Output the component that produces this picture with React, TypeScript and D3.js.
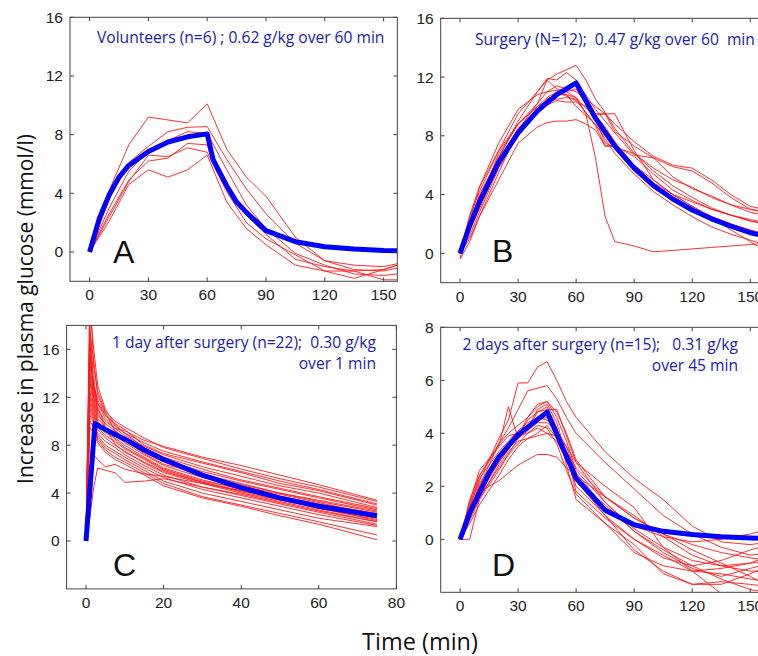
import React from "react";
import * as d3 from "d3";

// ---- A: volunteers ----
const timeA = [0, 10, 20, 30, 40, 50, 60, 70, 80, 90, 105, 120, 135, 150, 157];
const subjectsA = [
  [0, 4.2, 7.3, 9.2, 9.0, 8.8, 10.1, 7.0, 5.1, 3.8, 1.0, -0.6, -0.9, -1.0, -0.8],
  [0, 3.6, 6.1, 7.2, 8.2, 8.5, 8.55, 6.3, 4.3, 2.6, 0.6, -0.6, -1.2, -1.3, -1.1],
  [0, 3.0, 5.5, 6.9, 7.6, 8.2, 8.1, 5.6, 3.2, 1.6, -0.1, -0.9, -1.5, -1.6, -1.5],
  [0, 2.6, 4.9, 6.2, 6.4, 7.4, 7.3, 4.6, 2.5, 1.2, -0.5, -1.0, -1.3, -1.9, -1.9],
  [0, 2.4, 4.8, 6.6, 6.5, 7.1, 6.8, 4.1, 2.0, 0.9, -0.2, -1.3, -1.8, -1.2, -0.9],
  [0, 2.1, 4.6, 5.6, 5.1, 5.6, 6.6, 3.4, 1.6, 0.5, -0.9, -1.3, -1.3, -1.2, -0.9],
];
const modelTimeA = [0, 5, 10, 15, 20, 30, 40, 50, 60, 63, 70, 75, 80, 90, 105, 120, 135, 150, 157];
const modelA = [0, 2.3, 3.9, 5.1, 5.9, 6.85, 7.5, 7.85, 8.05, 6.3, 4.5, 3.4, 2.7, 1.45, 0.7, 0.36, 0.2, 0.1, 0.08];

// ---- B: surgery ----
const timeB = [0, 5, 10, 20, 30, 40, 45, 50, 55, 60, 65, 70, 75, 80, 90, 100, 110, 120, 130, 140, 150, 160];
const subjectsB = [
  [0, 2.5, 4.2, 7.0, 9.5, 11.0, 11.8, 12.2, 12.5, 12.8, 11.8, 10.5, 9.6, 8.5, 6.8, 5.8, 5.0, 4.5, 3.8, 3.3, 2.8, 2.5],
  [0, 2.0, 4.0, 6.5, 9.0, 11.0, 11.9, 11.8, 12.3, 11.8, 10.8, 9.8, 9.0, 8.2, 6.7, 6.5, 5.9, 5.6, 4.8, 3.8, 3.0, 2.8],
  [0, 1.8, 3.5, 6.8, 8.8, 10.2, 11.8, 11.2, 11.0, 11.2, 10.2, 9.5, 9.5, 9.5, 7.0, 5.0, 4.0, 3.5, 3.0, 2.6, 2.3, 2.0],
  [0, 1.5, 3.2, 6.0, 8.5, 9.8, 10.5, 10.8, 11.0, 10.6, 9.5, 6.5, 2.5, 0.8, 0.5, 0.1, 0.2, 0.3, 0.4, 0.5, 0.6, 0.7],
  [0, 1.0, 2.5, 5.0, 7.5, 8.6, 8.9, 9.0, 9.0, 9.1, 8.8, 8.4, 7.3, 7.3, 5.8, 4.6, 3.6, 3.0, 2.5, 2.0, 1.6, 1.2],
  [0, 2.2, 4.5, 7.5, 9.8, 10.8, 11.0, 11.4, 11.2, 11.0, 10.5, 10.0, 9.5, 8.8, 7.6, 6.6, 6.0, 5.8, 5.0, 4.0, 3.2, 2.9],
  [0, 1.6, 3.0, 6.0, 8.3, 9.8, 10.5, 10.8, 10.8, 10.6, 9.9, 9.4, 9.5, 8.3, 7.3, 6.5, 5.2, 4.4, 3.9, 3.3, 3.0, 2.7],
  [0, 2.0, 3.8, 6.6, 8.8, 10.0, 10.6, 11.0, 10.7, 10.4, 9.6, 8.7, 8.0, 7.2, 6.0, 5.0, 4.0, 3.2, 2.5, 1.9, 1.4, 1.0],
  [0, 1.2, 2.8, 5.8, 8.0, 9.5, 10.1, 10.4, 10.3, 10.3, 10.0, 9.4, 8.6, 7.6, 6.0, 4.8, 4.0, 3.2, 2.4, 1.6, 0.8, 0.0],
  [-0.3, 1.8, 3.4, 6.3, 8.5, 9.6, 10.3, 10.5, 10.6, 10.5, 9.6, 8.7, 7.3, 7.3, 6.6, 5.4, 4.3, 3.6, 3.0, 2.6, 2.2, 1.9],
  [0, 2.6, 4.5, 7.0, 8.8, 10.0, 10.4, 10.9, 11.3, 11.4, 10.4, 9.2, 7.5, 7.2, 6.8, 5.6, 4.6, 3.8, 3.1, 2.6, 2.2, 2.0],
  [-0.4, 0.8, 2.5, 5.5, 8.4, 10.2, 11.0, 11.1, 10.8, 10.0, 9.4, 8.8, 7.8, 6.8, 5.4, 4.2, 3.3, 2.5, 1.8, 1.3, 0.9, 0.5],
];
const modelTimeB = [0, 5, 10, 20, 30, 40, 50, 60, 70, 80, 90, 100, 110, 120, 130, 140, 150, 160];
const modelB = [0, 1.9, 3.5, 6.2, 8.2, 9.7, 10.8, 11.6, 9.2, 7.3, 5.8, 4.6, 3.7, 2.95, 2.35, 1.85, 1.4, 1.1];

// ---- C: 1 day after surgery ----
const timeC = [0, 1, 2, 3, 5, 7.5, 10, 15, 20, 30, 40, 50, 60, 75];
const subjectsC = [
  [0, 21, 14.5, 12.5, 10.8, 10.0, 9.5, 8.6, 7.8, 6.9, 6.0, 5.2, 4.5, 3.3],
  [0, 18, 13.0, 11.5, 10.5, 9.6, 9.0, 8.2, 7.5, 6.6, 5.8, 5.0, 4.3, 3.1],
  [0, 17, 12.5, 11.0, 10.0, 9.4, 8.8, 7.9, 7.2, 6.2, 5.4, 4.6, 4.0, 2.8],
  [0, 16, 12.0, 10.5, 9.8, 9.2, 8.6, 7.6, 6.8, 5.8, 5.0, 4.3, 3.6, 2.6],
  [0, 15, 11.8, 10.2, 9.5, 9.0, 8.4, 7.3, 6.4, 5.6, 4.8, 4.0, 3.3, 2.4],
  [0, 14, 11.5, 10.0, 9.2, 8.8, 8.2, 7.2, 6.3, 5.3, 4.6, 3.9, 3.2, 2.2],
  [0, 13.5, 11.0, 9.8, 9.0, 8.6, 8.0, 7.0, 6.1, 5.1, 4.3, 3.6, 2.9, 2.0],
  [0, 12.5, 10.8, 9.5, 8.8, 8.3, 7.7, 6.8, 5.9, 4.9, 4.2, 3.5, 2.7, 1.8],
  [0, 12.0, 10.5, 9.3, 8.6, 8.0, 7.5, 6.5, 5.7, 4.8, 4.0, 3.3, 2.6, 1.6],
  [0, 11.5, 10.2, 9.0, 8.3, 7.8, 7.2, 6.3, 5.5, 4.5, 3.8, 3.1, 2.4, 1.4],
  [0, 11.0, 10.0, 8.8, 8.0, 7.5, 7.0, 6.1, 5.3, 4.3, 3.6, 2.9, 2.2, 1.3],
  [0, 10.5, 9.8, 8.6, 7.8, 7.3, 6.8, 5.9, 5.0, 4.0, 3.3, 2.6, 1.9, 1.2],
  [0, 10.0, 9.5, 8.4, 7.6, 7.0, 6.6, 5.7, 4.8, 3.7, 3.0, 2.3, 1.6, 0.5],
  [0, 9.5, 9.0, 8.2, 7.4, 6.8, 6.4, 5.5, 4.6, 3.6, 2.9, 2.1, 1.4, 0.1],
  [0, 13.0, 12.5, 11.5, 10.2, 9.4, 9.2, 8.4, 7.9, 7.0, 6.3, 5.5, 4.7, 3.4],
  [0, 15.5, 13.0, 11.8, 10.5, 9.8, 9.3, 8.0, 7.3, 6.5, 5.7, 4.8, 4.2, 3.0],
  [0, 4.0, 7.2, 6.8, 6.2, 6.4, 6.0, 5.6, 5.4, 4.8, 4.2, 3.5, 2.8, 1.9],
  [0, 2.0, 4.5, 6.1, 5.9, 5.7, 4.9, 5.0, 5.2, 4.5, 3.9, 3.2, 2.5, 1.6],
  [0, 19.5, 16.0, 13.0, 11.0, 9.7, 9.0, 7.8, 7.0, 6.0, 5.1, 4.4, 3.7, 2.7],
  [0, 17.5, 15.0, 12.2, 10.7, 9.2, 8.5, 7.4, 6.6, 5.5, 4.7, 4.0, 3.4, 2.5],
  [0, 14.5, 13.5, 11.2, 9.6, 8.5, 7.8, 6.9, 6.0, 5.0, 4.4, 3.7, 3.1, 2.3],
  [0, 16.5, 12.8, 10.8, 9.4, 8.1, 7.4, 6.6, 5.8, 4.9, 4.1, 3.4, 2.8, 1.7],
];
const modelTimeC = [0, 2.3, 5, 10, 15, 20, 30, 40, 50, 60, 75];
const modelC = [0, 9.8, 9.3, 8.5, 7.6, 6.8, 5.5, 4.45, 3.6, 2.9, 2.1];

// ---- D: 2 days after surgery ----
const timeD = [0, 5, 10, 20, 25, 30, 35, 40, 45, 50, 55, 60, 75, 90, 105, 120, 135, 150, 160];
const subjectsD = [
  [0, 1.2, 2.2, 3.8, 4.5, 5.9, 5.9, 6.5, 6.7, 6.0, 5.2, 4.6, 3.3, 2.3, 1.5, 0.5, -0.1, -0.2, -0.1],
  [0, 1.0, 2.0, 3.6, 4.2, 4.9, 5.6, 5.7, 5.8, 5.3, 4.6, 4.0, 2.9, 1.9, 0.9, 0.2, -0.3, -0.6, -0.5],
  [0, 1.3, 2.4, 3.5, 5.0, 3.8, 4.2, 4.5, 4.6, 4.2, 3.0, 2.2, 1.3, 0.3, -0.4, -1.0, -1.5, -1.9, -2.0],
  [0, 0.8, 1.8, 2.2, 2.5, 2.8, 3.0, 3.2, 3.2, 3.1, 2.7, 2.4, 1.6, 0.9, 0.1, -0.6, -1.0, -1.2, -1.2],
  [0, 0, 1.5, 2.6, 3.2, 3.8, 4.2, 4.9, 5.1, 4.4, 3.2, 1.8, 0.8, 0.0, -0.6, -1.2, -1.3, -1.5, -1.6],
  [0, 1.1, 2.0, 2.9, 3.4, 3.9, 4.6, 5.0, 5.2, 4.6, 3.7, 2.6, 1.4, 0.3, -0.5, -1.1, -1.4, -1.1, -0.9],
  [0, 1.0, 1.6, 2.7, 3.2, 3.6, 4.0, 4.2, 4.0, 3.7, 3.0, 2.2, 0.9, -0.4, -1.2, -1.7, -1.7, -1.3, -1.0],
  [0, 0.6, 1.3, 2.4, 3.0, 3.5, 3.8, 4.0, 4.3, 3.8, 3.3, 2.7, 1.6, 0.8, 0.2, -0.4, -0.9, -1.4, -1.8],
  [0, 0.9, 1.9, 3.1, 3.6, 3.9, 4.5, 4.8, 4.9, 4.9, 3.9, 2.9, 1.4, 0.4, -0.3, -0.8, -1.0, -0.9, -0.6],
  [0, 0.7, 1.5, 2.8, 3.3, 3.7, 3.8, 3.9, 4.0, 3.9, 3.5, 2.9, 2.0, 1.2, -0.3, -1.2, -2.05, -2.6, -2.9],
  [0, 1.4, 2.6, 3.5, 3.9, 4.0, 4.1, 4.4, 4.4, 4.1, 3.5, 2.5, 1.2, 0.5, 0.1, -0.1, 0.0, 0.2, 0.4],
  [0, 1.2, 2.3, 3.3, 3.7, 4.1, 4.4, 4.6, 4.5, 4.1, 3.1, 2.0, 0.9, 0.0, -0.7, -1.0, -0.8, -0.4, -0.2],
  [0, 0.8, 1.7, 2.9, 3.4, 3.9, 4.0, 4.3, 4.2, 3.6, 2.6, 1.7, 0.6, -0.5, -1.0, -1.2, -1.1, -0.9, -0.8],
  [0, 1.0, 2.1, 3.2, 3.5, 3.8, 4.1, 4.8, 5.0, 4.2, 2.8, 1.5, 0.6, -0.2, -1.3, -1.7, -1.6, -1.7, -1.8],
  [0, 1.5, 2.4, 3.6, 4.0, 4.3, 4.6, 5.1, 5.2, 4.8, 4.0, 3.0, 1.6, 0.8, 0.2, -0.2, -0.5, -0.7, -0.8],
];
const modelTimeD = [0, 5, 10, 15, 20, 30, 45, 60, 75, 90, 105, 120, 135, 150, 160];
const modelD = [0, 1.0, 1.75, 2.5, 3.1, 3.95, 4.8, 2.3, 1.1, 0.55, 0.3, 0.18, 0.1, 0.05, 0.03];

const ticks0to150 = [0, 30, 60, 90, 120, 150];
const ticksC = [0, 20, 40, 60, 80];
const yTicks16 = [0, 4, 8, 12, 16];
const yTicksD = [0, 2, 4, 6, 8];

const noteA = ["Volunteers (n=6) ; 0.62 g/kg over 60 min"];
const noteB = ["Surgery (N=12);  0.47 g/kg over 60  min"];
const noteC = ["1 day after surgery (n=22);  0.30 g/kg", "over 1 min"];
const noteD = ["2 days after surgery (n=15);   0.31 g/kg", "over 45 min"];

const TEXT_BLUE = "#2020b8";
const TICK_FONT = "'Liberation Sans', Arial, sans-serif";
const NOTE_FONT = "'Open Sans', sans-serif";

type PanelProps = {
  id: string;
  box: { left: number; right: number; top: number; bottom: number };
  xDomain: [number, number];
  yDomain: [number, number];
  xTicks: number[];
  yTicks: number[];
  times: number[];
  subjects: number[][];
  modelTime: number[];
  model: number[];
  letter: string;
  letterX: number;
  letterY: number;
  notes: string[];
  noteX: number;
  noteY: number;
  noteAnchor: "start" | "end";
};

const Panel = (p: PanelProps) => {
  const { box } = p;
  const x = d3.scaleLinear().domain(p.xDomain).range([box.left, box.right]);
  const y = d3.scaleLinear().domain(p.yDomain).range([box.bottom, box.top]);
  const line = d3
    .line<[number, number]>()
    .x((d) => x(d[0]))
    .y((d) => y(d[1]));
  const pairs = (ts: number[], vs: number[]) => vs.map((v, i) => [ts[i], v] as [number, number]);
  const tl = 4;

  return (
    <g>
      <defs>
        <clipPath id={"clip-" + p.id}>
          <rect x={box.left} y={box.top} width={box.right - box.left} height={box.bottom - box.top} />
        </clipPath>
      </defs>
      <g clipPath={`url(#clip-${p.id})`} fill="none" strokeLinejoin="round">
        {p.subjects.map((s, i) => (
          <path key={i} d={line(pairs(p.times, s)) || ""} stroke="#ff1a1a" strokeWidth={0.9} />
        ))}
        <path d={line(pairs(p.modelTime, p.model)) || ""} stroke="#0000ff" strokeWidth={5} />
      </g>
      <rect
        x={box.left}
        y={box.top}
        width={box.right - box.left}
        height={box.bottom - box.top}
        fill="none"
        stroke="#444"
        strokeWidth={1}
      />
      {p.xTicks.map((t) => (
        <g key={"x" + t}>
          <line x1={x(t)} x2={x(t)} y1={box.bottom} y2={box.bottom - tl} stroke="#444" />
          <line x1={x(t)} x2={x(t)} y1={box.top} y2={box.top + tl} stroke="#444" />
          <text
            x={x(t)}
            y={box.bottom + 19}
            textAnchor="middle"
            fontFamily={TICK_FONT}
            fontSize={15.5}
            fill="#222"
          >
            {t}
          </text>
        </g>
      ))}
      {p.yTicks.map((t) => (
        <g key={"y" + t}>
          <line x1={box.left} x2={box.left + tl} y1={y(t)} y2={y(t)} stroke="#444" />
          <line x1={box.right} x2={box.right - tl} y1={y(t)} y2={y(t)} stroke="#444" />
          <text
            x={box.left - 7}
            y={y(t) + 5.5}
            textAnchor="end"
            fontFamily={TICK_FONT}
            fontSize={15.5}
            fill="#222"
          >
            {t}
          </text>
        </g>
      ))}
      <text x={p.letterX} y={p.letterY} fontFamily={TICK_FONT} fontSize={32} fill="#111">
        {p.letter}
      </text>
      {p.notes.map((n, i) => (
        <text
          key={i}
          x={p.noteX}
          y={p.noteY + i * 21}
          textAnchor={p.noteAnchor}
          fontFamily={NOTE_FONT}
          fontSize={15.6}
          fontWeight={500}
          fill={TEXT_BLUE}
          style={{ whiteSpace: "pre" }}
        >
          {n}
        </text>
      ))}
    </g>
  );
};

export default function App() {
  return (
    <svg
      width={758}
      height={656}
      style={{ position: "absolute", left: 0, top: 0, background: "#fff" }}
    >
      <Panel
        id="a"
        box={{ left: 70, right: 397.3, top: 17.3, bottom: 281.3 }}
        xDomain={[-10, 157]}
        yDomain={[-2, 16]}
        xTicks={ticks0to150}
        yTicks={yTicks16}
        times={timeA}
        subjects={subjectsA}
        modelTime={modelTimeA}
        model={modelA}
        letter="A"
        letterX={113}
        letterY={263}
        notes={noteA}
        noteX={97}
        noteY={43}
        noteAnchor="start"
      />
      <Panel
        id="b"
        box={{ left: 440.7, right: 769.6, top: 18.3, bottom: 282.7 }}
        xDomain={[-10, 160]}
        yDomain={[-2, 16]}
        xTicks={ticks0to150}
        yTicks={yTicks16}
        times={timeB}
        subjects={subjectsB}
        modelTime={modelTimeB}
        model={modelB}
        letter="B"
        letterX={492}
        letterY={262}
        notes={noteB}
        noteX={475}
        noteY={45}
        noteAnchor="start"
      />
      <Panel
        id="c"
        box={{ left: 66.6, right: 396.4, top: 325.4, bottom: 588.9 }}
        xDomain={[-5, 80]}
        yDomain={[-4, 18]}
        xTicks={ticksC}
        yTicks={yTicks16}
        times={timeC}
        subjects={subjectsC}
        modelTime={modelTimeC}
        model={modelC}
        letter="C"
        letterX={113}
        letterY={576}
        notes={noteC}
        noteX={376}
        noteY={348}
        noteAnchor="end"
      />
      <Panel
        id="d"
        box={{ left: 440.7, right: 769.6, top: 327.3, bottom: 592.3 }}
        xDomain={[-10, 160]}
        yDomain={[-2, 8]}
        xTicks={ticks0to150}
        yTicks={yTicksD}
        times={timeD}
        subjects={subjectsD}
        modelTime={modelTimeD}
        model={modelD}
        letter="D"
        letterX={492}
        letterY={576}
        notes={noteD}
        noteX={738}
        noteY={350}
        noteAnchor="end"
      />
      <text
        transform="translate(33,309) rotate(-90)"
        textAnchor="middle"
        fontFamily={NOTE_FONT}
        fontSize={21}
        fill="#111"
      >
        Increase in plasma glucose (mmol/l)
      </text>
      <text x={420} y={650} textAnchor="middle" fontFamily={NOTE_FONT} fontSize={23.5} fill="#111">
        Time (min)
      </text>
    </svg>
  );
}
